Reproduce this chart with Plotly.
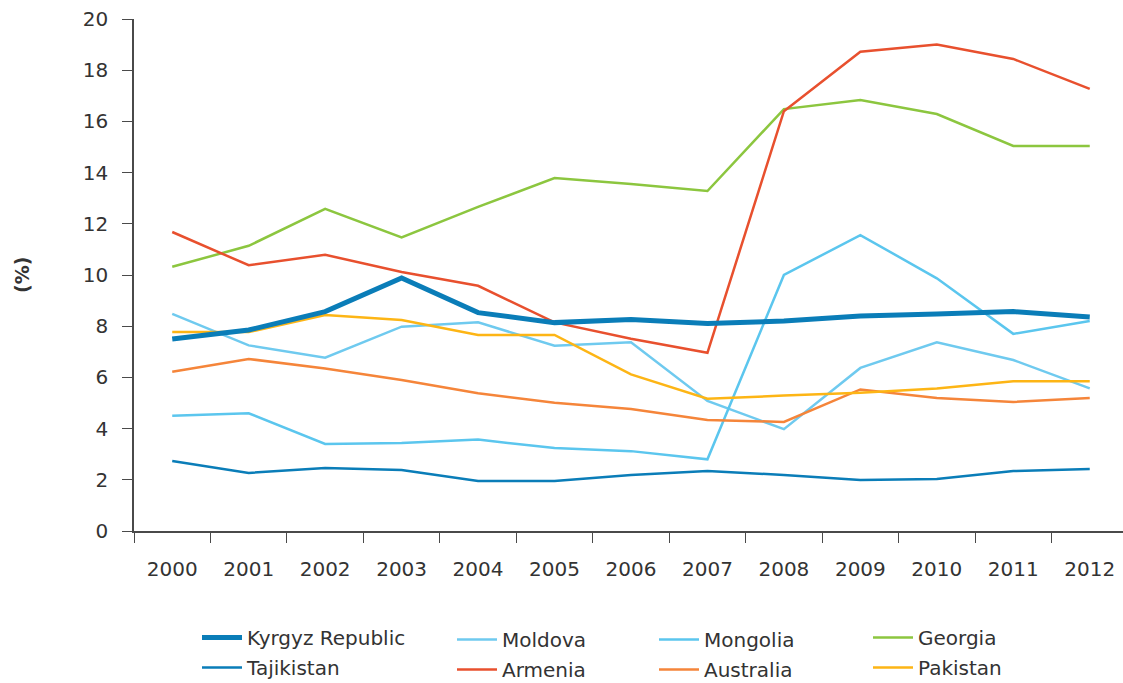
import plotly.graph_objects as go

years = ["2000", "2001", "2002", "2003", "2004", "2005", "2006", "2007", "2008", "2009", "2010", "2011", "2012"]

kyrgyz = [7.5, 7.85, 8.57, 9.88, 8.53, 8.14, 8.26, 8.11, 8.2, 8.4, 8.48, 8.57, 8.36]
tajikistan = [2.73, 2.27, 2.46, 2.38, 1.95, 1.95, 2.19, 2.34, 2.19, 1.99, 2.03, 2.34, 2.42]
moldova = [8.48, 7.25, 6.77, 7.98, 8.15, 7.24, 7.37, 5.08, 3.98, 6.37, 7.37, 6.68, 5.57]
mongolia = [4.5, 4.6, 3.4, 3.44, 3.57, 3.24, 3.12, 2.8, 10.0, 11.56, 9.87, 7.7, 8.2]
armenia = [11.68, 10.38, 10.79, 10.12, 9.58, 8.15, 7.51, 6.96, 16.4, 18.72, 19.0, 18.44, 17.27]
georgia = [10.32, 11.14, 12.58, 11.47, 12.66, 13.79, 13.55, 13.28, 16.48, 16.84, 16.29, 15.04, 15.04]
australia = [6.22, 6.72, 6.35, 5.9, 5.38, 5.01, 4.77, 4.34, 4.26, 5.53, 5.2, 5.04, 5.2]
pakistan = [7.77, 7.77, 8.44, 8.24, 7.66, 7.66, 6.12, 5.17, 5.29, 5.4, 5.57, 5.85, 5.85]

y_ticks = [0, 2, 4, 6, 8, 10, 12, 14, 16, 18, 20]
y_title = "(%)"

FONT = "'DejaVu Sans', sans-serif"
TXT = "#333333"

W, H = 1123, 683
ML, MT, MB = 134, 19, 152
PW = W - ML

# legend slots: (legend id, left edge of line in page px, row centre in page px)
slots = {
    "Kyrgyz Republic": ("legend", 203, 638),
    "Tajikistan": ("legend2", 203, 668),
    "Moldova": ("legend3", 458, 640),
    "Armenia": ("legend4", 458, 670),
    "Mongolia": ("legend5", 660, 640),
    "Australia": ("legend6", 660, 670),
    "Georgia": ("legend7", 874, 638),
    "Pakistan": ("legend8", 874, 668),
}

# (name, values, color, width)
series = [
    ("Tajikistan", tajikistan, "#0a7db8", 2.5),
    ("Moldova", moldova, "#6fcaef", 2.5),
    ("Mongolia", mongolia, "#5bc6ee", 2.5),
    ("Australia", australia, "#f5853a", 2.5),
    ("Pakistan", pakistan, "#fdb515", 2.5),
    ("Georgia", georgia, "#8cc63f", 2.5),
    ("Armenia", armenia, "#e8502e", 2.5),
    ("Kyrgyz Republic", kyrgyz, "#0a7db8", 5),
]

fig = go.Figure()
for name, vals, color, w in series:
    fig.add_trace(go.Scatter(
        x=years, y=vals, mode="lines", name=name,
        line=dict(color=color, width=w),
        legend=slots[name][0], showlegend=True,
    ))

legends = {}
for name, (lid, px, py) in slots.items():
    fx = px - 6
    fy = py - 20
    legends[lid] = dict(
        orientation="v", yanchor="top", xanchor="left",
        xref="container", yref="container",
        x=fx / W, y=1 - fy / H,
        font=dict(family=FONT, size=20, color=TXT),
        bgcolor="rgba(0,0,0,0)", itemwidth=40,
    )

fig.add_annotation(
    text="<b>" + y_title + "</b>", textangle=-90,
    xref="paper", yref="paper", x=(22 - ML) / PW, y=0.5,
    xanchor="center", yanchor="middle", showarrow=False,
    font=dict(family=FONT, size=19, color=TXT),
)

fig.update_layout(
    width=W, height=H, showlegend=True,
    margin=dict(l=ML, r=0, t=MT, b=MB, autoexpand=False),
    paper_bgcolor="white", plot_bgcolor="white",
    font=dict(family=FONT, size=20, color=TXT),
    xaxis=dict(
        type="category", range=[-0.5, 12.435],
        showline=True, linecolor="#4a4a4a", linewidth=1.5,
        ticks="outside", tickson="boundaries", ticklen=10, tickwidth=1.3, tickcolor="#4a4a4a",
        showgrid=False, zeroline=False,
        tickfont=dict(family=FONT, size=20, color=TXT),
        ticklabelstandoff=19,
    ),
    yaxis=dict(
        range=[0, 20], tickvals=y_ticks,
        showline=True, linecolor="#4a4a4a", linewidth=1.5,
        ticks="outside", ticklen=10, tickwidth=1.3, tickcolor="#4a4a4a",
        showgrid=False, zeroline=False,
        tickfont=dict(family=FONT, size=20, color=TXT),
        ticklabelstandoff=10,
    ),
    **legends,
)

fig.write_html(
    "out.html",
    config={"displayModeBar": False},
    post_script="document.body.style.margin='0';document.body.style.overflow='hidden';",
)
